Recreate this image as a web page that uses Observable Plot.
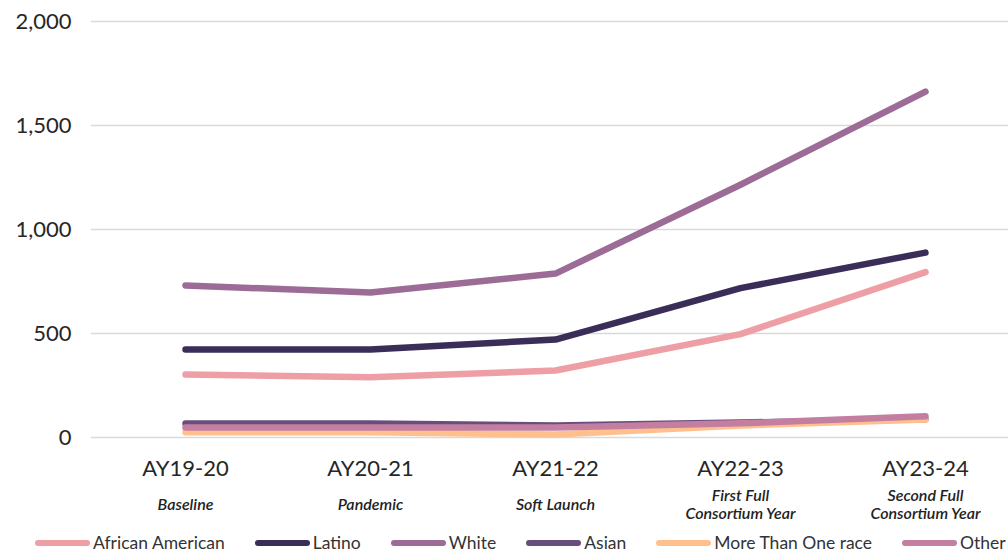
<!DOCTYPE html>
<html>
<head>
<meta charset="utf-8">
<script src="https://cdn.jsdelivr.net/npm/d3@7"></script>
<script src="https://cdn.jsdelivr.net/npm/@observablehq/plot@0.6"></script>
<style>
  html, body { margin: 0; padding: 0; background: #fff; }
  body { width: 1008px; height: 552px; overflow: hidden; font-family: Lato, "Open Sans", sans-serif; }
  #legend { display: flex; align-items: center; height: 25px; padding-left: 35px; padding-top: 3px; gap: 30px; white-space: nowrap; }
  .item { display: flex; align-items: center; font-size: 17.5px; color: #333; }
  .sw { width: 55px; height: 6px; border-radius: 3px; margin-right: 3px; }
</style>
</head>
<body>
<div id="chart"></div>
<div id="legend"></div>
<script>
const categories = ["AY19-20", "AY20-21", "AY21-22", "AY22-23", "AY23-24"];
const subtitles = ["Baseline", "Pandemic", "Soft Launch", "First Full\nConsortium Year", "Second Full\nConsortium Year"];
const seriesNames = ["African American", "Latino", "White", "Asian", "More Than One race", "Other"];
const africanAmerican = [303, 290, 322, 497, 795];
const latino = [423, 423, 471, 718, 889];
const white = [731, 697, 788, 1215, 1663];
const asian = [67, 67, 58, 72, 88];
const moreThanOne = [25, 25, 14, 58, 86];
const other = [48, 48, 48, 68, 102];
const yTicks = [0, 500, 1000, 1500, 2000];
const colors = ["#EE9FA5", "#3A2E58", "#9C6C97", "#674E7C", "#FFC08E", "#C47FA0"];

const seriesValues = [africanAmerican, latino, white, asian, moreThanOne, other];
const rows = [];
seriesNames.forEach((name, i) => {
  categories.forEach((c, j) => rows.push({series: name, cat: c, value: seriesValues[i][j]}));
});
const subRows = categories.map((c, i) => ({cat: c, sub: subtitles[i]}));

const chart = Plot.plot({
  width: 1008,
  height: 527,
  marginTop: 21,
  marginBottom: 90,
  marginLeft: 91,
  marginRight: 0,
  style: {fontFamily: "Lato, sans-serif", background: "#fff"},
  x: {type: "point", domain: categories, range: [185, 925], padding: 0, label: null},
  y: {domain: [0, 2000], label: null},
  color: {domain: seriesNames, range: colors},
  marks: [
    Plot.gridY(yTicks, {stroke: "#d9d9d9", strokeOpacity: 1, strokeWidth: 1.5}),
    Plot.axisY(yTicks, {tickSize: 0, tickPadding: 20, fontSize: 22, fill: "#262626", tickFormat: d3.format(","), label: null}),
    Plot.axisX({tickSize: 0, tickPadding: 23, fontSize: 22, fill: "#262626", label: null}),
    Plot.text(subRows, {x: "cat", text: "sub", frameAnchor: "bottom", dy: 67, lineAnchor: "middle", lineHeight: 1.14, fontSize: 16, fontStyle: "italic", fontWeight: 600, fill: "#222"}),
    Plot.line(rows, {x: "cat", y: "value", z: "series", stroke: "series", strokeWidth: 6.5, strokeLinecap: "round", strokeLinejoin: "round"})
  ]
});
document.getElementById("chart").appendChild(chart);

const legend = document.getElementById("legend");
seriesNames.forEach((name, i) => {
  const item = document.createElement("div");
  item.className = "item";
  const sw = document.createElement("div");
  sw.className = "sw";
  sw.style.background = colors[i];
  const label = document.createElement("span");
  label.textContent = name;
  item.appendChild(sw);
  item.appendChild(label);
  legend.appendChild(item);
});
</script>
</body>
</html>
